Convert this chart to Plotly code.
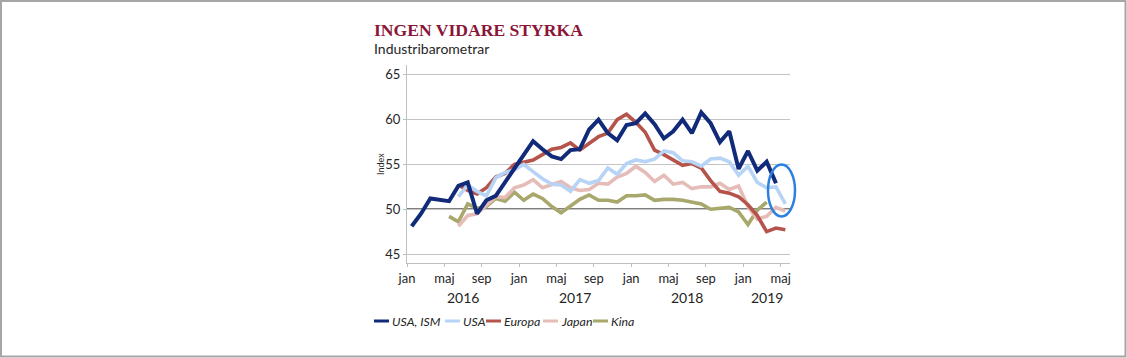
import plotly.graph_objects as go

# ---------------- data ----------------
months = [
    "2016-01", "2016-02", "2016-03", "2016-04", "2016-05", "2016-06", "2016-07", "2016-08", "2016-09", "2016-10", "2016-11", "2016-12",
    "2017-01", "2017-02", "2017-03", "2017-04", "2017-05", "2017-06", "2017-07", "2017-08", "2017-09", "2017-10", "2017-11", "2017-12",
    "2018-01", "2018-02", "2018-03", "2018-04", "2018-05", "2018-06", "2018-07", "2018-08", "2018-09", "2018-10", "2018-11", "2018-12",
    "2019-01", "2019-02", "2019-03", "2019-04", "2019-05",
]
month_names = ["jan", "feb", "mar", "apr", "maj", "jun", "jul", "aug", "sep", "okt", "nov", "dec"]
years = ["2016", "2017", "2018", "2019"]

usa_ism = [48.1, 49.5, 51.2, 51.1, 50.9, 52.6, 53.0, 49.5, 51.0, 51.5, 53.0, 54.5,
           56.0, 57.6, 56.7, 55.9, 55.6, 56.6, 56.7, 58.9, 60.0, 58.5, 57.7, 59.4,
           59.6, 60.7, 59.5, 57.9, 58.7, 60.0, 58.5, 60.8, 59.6, 57.5, 58.7, 54.5,
           56.5, 54.3, 55.3, 52.9, None]
usa = [None, None, None, None, None, 51.4, 52.7, 52.0, 51.5, 53.5, 54.1, 54.4,
       55.0, 54.2, 53.4, 52.8, 52.7, 52.0, 53.3, 52.9, 53.2, 54.6, 53.9, 55.1,
       55.5, 55.3, 55.6, 56.5, 56.3, 55.4, 55.3, 54.8, 55.6, 55.7, 55.3, 53.8,
       54.8, 53.0, 52.4, 52.5, 50.6]
europa = [None, None, None, None, None, 52.7, 52.1, 51.7, 52.4, 53.6, 54.0, 55.0,
          55.2, 55.5, 56.1, 56.7, 56.9, 57.4, 56.6, 57.4, 58.1, 58.5, 60.0, 60.6,
          59.7, 58.6, 56.6, 56.1, 55.5, 54.9, 55.1, 54.6, 53.2, 52.0, 51.8, 51.4,
          50.5, 49.3, 47.5, 47.9, 47.7]
japan = [None, None, None, None, None, 48.1, 49.3, 49.5, 50.4, 51.4, 51.3, 52.4,
         52.7, 53.3, 52.4, 52.7, 53.1, 52.4, 52.1, 52.2, 52.9, 52.8, 53.6, 54.0,
         54.8, 54.1, 53.1, 53.8, 52.8, 53.0, 52.3, 52.5, 52.5, 52.9, 52.2, 52.6,
         50.3, 48.9, 49.2, 50.2, 49.8]
kina = [None, None, None, None, 49.2, 48.6, 50.6, 50.1, 50.3, 51.2, 50.9, 51.9,
        51.0, 51.7, 51.2, 50.3, 49.6, 50.4, 51.1, 51.6, 51.0, 51.0, 50.8, 51.5,
        51.5, 51.6, 51.0, 51.1, 51.1, 51.0, 50.8, 50.6, 50.0, 50.1, 50.2, 49.7,
        48.3, 49.9, 50.8, None, None]

series_names = ["USA, ISM", "USA", "Europa", "Japan", "Kina"]
y_ticks = [45, 50, 55, 60, 65]

# ---------------- styles ----------------
colors = {"USA, ISM": "#112A7A", "USA": "#B7D4F6", "Europa": "#B5544B",
          "Japan": "#E6BCB8", "Kina": "#A8A76C"}
widths = {"USA, ISM": 4, "USA": 3.6, "Europa": 3.6, "Japan": 3.6, "Kina": 3.6}
series = {"USA, ISM": usa_ism, "USA": usa, "Europa": europa, "Japan": japan, "Kina": kina}

FONT = "Lato"
TXT = "#262626"

x_idx = list(range(len(months)))

fig = go.Figure()
draw_order = ["Kina", "Japan", "Europa", "USA", "USA, ISM"]
for name in draw_order:
    fig.add_trace(go.Scatter(
        x=x_idx, y=series[name], mode="lines", name=name,
        line=dict(color=colors[name], width=widths[name]),
        connectgaps=False, showlegend=False, hoverinfo="x+y+name",
    ))

# tick labels every 4 months, placed at category boundaries
tickvals, ticktext = [], []
for i, m in enumerate(months):
    mo = int(m[5:7])
    if (mo - 1) % 4 == 0:
        tickvals.append(i - 0.5)
        ticktext.append(month_names[mo - 1])

L, R, T, B = 407, 337, 65, 95
W, H = 1127, 358
pw, ph = W - L - R, H - T - B


def px_x(px):
    return (px - L) / pw


def px_y(py):
    return (H - B - py) / ph


fig.update_layout(
    width=W, height=H,
    margin=dict(l=L, r=R, t=T, b=B, pad=0),
    paper_bgcolor="white", plot_bgcolor="white",
    font=dict(family=FONT, color=TXT, size=13),
    xaxis=dict(
        range=[-0.5, len(months) - 0.5], tickmode="array",
        tickvals=tickvals, ticktext=ticktext,
        showgrid=False, zeroline=False,
        showline=True, linecolor="#BFBFBF", linewidth=1,
        ticks="outside", ticklen=3, tickcolor="#BFBFBF",
        tickfont=dict(size=13, color=TXT, family=FONT),
    ),
    yaxis=dict(
        range=[44.0, 66.1], tickmode="array", tickvals=y_ticks,
        showgrid=True, gridcolor="#C4C4C4", gridwidth=1, zeroline=False,
        showline=True, linecolor="#BFBFBF", linewidth=1,
        ticks="outside", ticklen=3, tickcolor="#BFBFBF",
        tickfont=dict(size=13, color=TXT, family=FONT),
    ),
    showlegend=False,
)

shapes = []
# 50 reference line
shapes.append(dict(type="line", xref="paper", yref="y", x0=0, x1=1, y0=50, y1=50,
                   line=dict(color="black", width=1.3), layer="below"))
# highlight ellipse
shapes.append(dict(type="circle", xref="paper", yref="paper",
                   x0=px_x(768), x1=px_x(795), y0=px_y(216.5), y1=px_y(164.5),
                   line=dict(color="#2B80E2", width=2.5)))
# outer frame
shapes.append(dict(type="rect", xref="paper", yref="paper",
                   x0=px_x(1), x1=px_x(W - 1.5), y0=px_y(H - 1.5), y1=px_y(1),
                   line=dict(color="#A6A6A6", width=2)))

annotations = []
annotations.append(dict(text="<b>INGEN VIDARE STYRKA</b>", xref="paper", yref="paper",
                        x=px_x(372), y=px_y(30), xanchor="left", yanchor="middle",
                        showarrow=False,
                        font=dict(family="Liberation Serif", size=17.6, color="#8A1538")))
annotations.append(dict(text="Industribarometrar", xref="paper", yref="paper",
                        x=px_x(372), y=px_y(49), xanchor="left", yanchor="middle",
                        showarrow=False, font=dict(family=FONT, size=14, color=TXT)))
annotations.append(dict(text="Index", xref="paper", yref="paper",
                        x=px_x(380), y=0.5, textangle=-90, xanchor="center", yanchor="middle",
                        showarrow=False, font=dict(family=FONT, size=9, color=TXT)))

# year labels centred under each year's months
for yr in years:
    idxs = [i for i, m in enumerate(months) if m.startswith(yr)]
    annotations.append(dict(text=yr, xref="x", yref="paper",
                            x=sum(idxs) / len(idxs), y=px_y(297),
                            xanchor="center", yanchor="middle", showarrow=False,
                            font=dict(family=FONT, size=14, color=TXT)))

# manual legend
leg_x = [374, 445, 486, 543, 593]
leg_y = 321
for name, x0 in zip(series_names, leg_x):
    shapes.append(dict(type="line", xref="paper", yref="paper",
                       x0=px_x(x0), x1=px_x(x0 + 15), y0=px_y(leg_y), y1=px_y(leg_y),
                       line=dict(color=colors[name], width=3)))
    annotations.append(dict(text="<i>" + name + "</i>", xref="paper", yref="paper",
                            x=px_x(x0 + 15.5), y=px_y(leg_y), xanchor="left", yanchor="middle",
                            showarrow=False, font=dict(family=FONT, size=12.4, color=TXT)))

fig.update_layout(shapes=shapes, annotations=annotations)
fig.write_html(
    "out.html",
    config={"displayModeBar": False},
    post_script="document.body.style.margin='0';document.body.style.overflow='hidden';",
)
